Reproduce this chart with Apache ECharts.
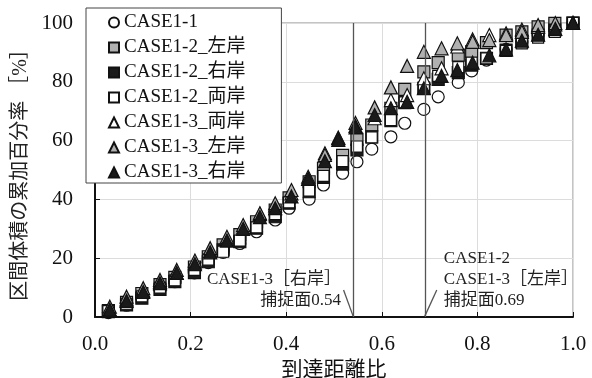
<!DOCTYPE html>
<html>
<head>
<meta charset="utf-8">
<script src="https://cdn.jsdelivr.net/npm/echarts@6/dist/echarts.min.js"></script>
<style>
  html, body { margin: 0; padding: 0; background: #fff; }
  #chart { width: 592px; height: 378px; }
</style>
</head>
<body>
<div id="chart"></div>
<script>
// x positions (reach distance ratio)
const xA = [0.028, 0.066, 0.098, 0.136, 0.167, 0.208, 0.237, 0.268, 0.303, 0.338, 0.377, 0.406, 0.448, 0.478, 0.518, 0.548, 0.579, 0.619, 0.648, 0.688, 0.718, 0.76, 0.788, 0.819, 0.86, 0.893, 0.927, 0.962, 1.0];
const xB = [0.031, 0.066, 0.101, 0.136, 0.171, 0.209, 0.241, 0.276, 0.31, 0.345, 0.377, 0.411, 0.446, 0.481, 0.509, 0.545, 0.585, 0.619, 0.653, 0.688, 0.725, 0.758, 0.79, 0.825, 0.86, 0.893, 0.927, 0.963, 1.0];

// cumulative percentage [%]
const case11 = [1.5, 4, 7, 9.5, 12, 15, 18.5, 22, 25, 29, 33, 37, 40.1, 44.9, 48.9, 52.8, 57.1, 61.3, 65.9, 70.6, 74.9, 79.8, 83.7, 87.4, 91, 93.5, 96, 98, 100];
const case12L = [2.2, 5, 8, 11, 13.5, 17, 20.5, 24.5, 28, 32.4, 36.4, 40.5, 46, 50.6, 55, 60.4, 65.3, 71, 77.4, 83.4, 86.5, 89.1, 90.2, 93.3, 95.9, 97, 98.7, 99.9, 100];
const case12R = [1.8, 4.1, 6.4, 9.4, 12, 15.1, 18.8, 22.8, 25.6, 30.2, 34.1, 38.7, 42.6, 47.5, 52, 56.8, 61.3, 66.8, 72.9, 77.8, 80.8, 83.1, 85.7, 88, 90.8, 93.6, 95.9, 97.6, 100];
const case12B = [2, 4.5, 7, 10, 12.5, 16, 19.5, 22.2, 26, 30.5, 35, 39, 43, 48, 53, 58, 61.1, 67, 73, 78, 82, 85, 86.5, 88, 90.5, 93.1, 95, 97, 100];
const case13B = [2.5, 6, 9, 12, 15, 18.5, 22.5, 26.5, 30.5, 35, 38, 42, 47, 55.7, 61, 66, 67.6, 73.8, 75.5, 81.2, 84.6, 92, 94.4, 95.9, 96.5, 97.8, 98.7, 99.5, 100];
const case13L = [3.5, 6.9, 9.8, 12.6, 16, 19.2, 23.4, 27.3, 31.3, 35.3, 38.7, 43.2, 47.7, 55.1, 60.8, 65, 71.3, 78.1, 85.4, 90.2, 91.4, 93.1, 93.6, 94.2, 95.9, 97, 99.3, 100, 100];
const case13R = [2.5, 5.5, 8.5, 11.5, 15, 18, 22, 26, 30, 34, 37, 41, 47, 53, 60.2, 64.5, 68.7, 71, 73.2, 77.8, 82, 84, 86.5, 89, 91, 94, 96, 98, 100];

const seriesNames = ["CASE1-1", "CASE1-2_左岸", "CASE1-2_右岸", "CASE1-2_両岸", "CASE1-3_両岸", "CASE1-3_左岸", "CASE1-3_右岸"];

// capture planes
const capturePlanes = [0.54, 0.69];
const leaderLeft = [[0.52, 9.2], [0.54, 0.3]];
const leaderRight = [[0.69, 0.3], [0.715, 9.2]];
const noteLeft = ["CASE1-3［右岸］", "捕捉面0.54"];
const noteRight = ["CASE1-2", "CASE1-3［左岸］", "捕捉面0.69"];

const FONT = '"Liberation Serif", "Noto Sans CJK JP", serif';
const zip = (xs, ys) => xs.map((x, i) => [x, ys[i]]);

const chart = echarts.init(document.getElementById("chart"));

function scatter(name, xs, ys, symbol, fill, size) {
  return {
    name,
    type: "scatter",
    data: zip(xs, ys),
    symbol,
    symbolSize: size,
    itemStyle: { color: fill, borderColor: "#111", borderWidth: 1.2, opacity: 1 },
    emphasis: { disabled: true },
  };
}

const series = [
  scatter(seriesNames[0], xA, case11, "circle", "#fff", 12),
  scatter(seriesNames[1], xA, case12L, "rect", "#b0b0b0", 12),
  scatter(seriesNames[2], xA, case12R, "rect", "#1a1a1a", 12),
  scatter(seriesNames[3], xA, case12B, "rect", "#fff", 11),
  scatter(seriesNames[4], xB, case13B, "triangle", "#fff", 13),
  scatter(seriesNames[5], xB, case13L, "triangle", "#b0b0b0", 13),
  scatter(seriesNames[6], xB, case13R, "triangle", "#1a1a1a", 13),
];

series[0].markLine = {
  silent: true,
  symbol: "none",
  animation: false,
  label: { show: false },
  lineStyle: { color: "#555", width: 1.3, type: "solid" },
  data: [
    ...capturePlanes.map((v) => ({ xAxis: v })),
    [{ coord: leaderLeft[0] }, { coord: leaderLeft[1] }],
    [{ coord: leaderRight[0] }, { coord: leaderRight[1] }],
  ],
};

chart.setOption({
  animation: false,
  backgroundColor: "#fff",
  textStyle: { fontFamily: FONT },
  grid: {
    left: 95, right: 19, top: 23, bottom: 61,
    outerBoundsMode: "none",
    show: true, borderColor: "#888", borderWidth: 1,
  },
  legend: {
    data: seriesNames,
    orient: "vertical",
    left: 86,
    top: 8,
    padding: [5, 36, 1, 22],
    itemGap: 6,
    itemWidth: 10,
    itemHeight: 10,
    backgroundColor: "#fff",
    borderColor: "#444",
    borderWidth: 1,
    borderRadius: 0,
    z: 10,
    selectedMode: false,
    textStyle: { fontFamily: FONT, fontSize: 19, color: "#111", padding: [0, 0, 0, 0], lineHeight: 19 },
  },
  xAxis: {
    type: "value",
    min: 0,
    max: 1,
    interval: 0.2,
    name: "到達距離比",
    nameLocation: "middle",
    nameGap: 31,
    nameTextStyle: { fontFamily: FONT, fontSize: 21, color: "#111" },
    axisLine: { lineStyle: { color: "#111", width: 2 } },
    axisTick: { inside: true, length: 5, lineStyle: { color: "#111" } },
    axisLabel: { fontFamily: FONT, fontSize: 21, color: "#111", margin: 17, formatter: (v) => v.toFixed(1) },
    splitLine: { lineStyle: { color: "#dcdcdc", width: 1 } },
  },
  yAxis: {
    type: "value",
    min: 0,
    max: 100,
    interval: 20,
    name: "区間体積の累加百分率 ［%］",
    nameLocation: "middle",
    nameRotate: 90,
    nameGap: 48,
    nameTextStyle: { fontFamily: FONT, fontSize: 20, color: "#222" },
    axisLine: { lineStyle: { color: "#111", width: 2 } },
    axisTick: { inside: true, length: 5, lineStyle: { color: "#111" } },
    axisLabel: { fontFamily: FONT, fontSize: 21, color: "#111", margin: 22 },
    splitLine: { lineStyle: { color: "#dcdcdc", width: 1 } },
  },
  series,
});

// annotation texts anchored to the capture planes
const pL = chart.convertToPixel({ gridIndex: 0 }, [capturePlanes[0], 0]);
const pR = chart.convertToPixel({ gridIndex: 0 }, [capturePlanes[1], 0]);
const noteStyle = { font: '17px ' + FONT, fill: "#222" };
chart.setOption({
  graphic: [
    ...noteLeft.map((t, i) => ({
      type: "text",
      x: pL[0] - 12,
      y: pL[1] - 37 + i * 21,
      style: { ...noteStyle, text: t, align: "right", verticalAlign: "middle" },
      z: 20,
    })),
    ...noteRight.map((t, i) => ({
      type: "text",
      x: pR[0] + 19,
      y: pR[1] - 58 + i * 21,
      style: { ...noteStyle, text: t, align: "left", verticalAlign: "middle" },
      z: 20,
    })),
  ],
});
</script>
</body>
</html>
